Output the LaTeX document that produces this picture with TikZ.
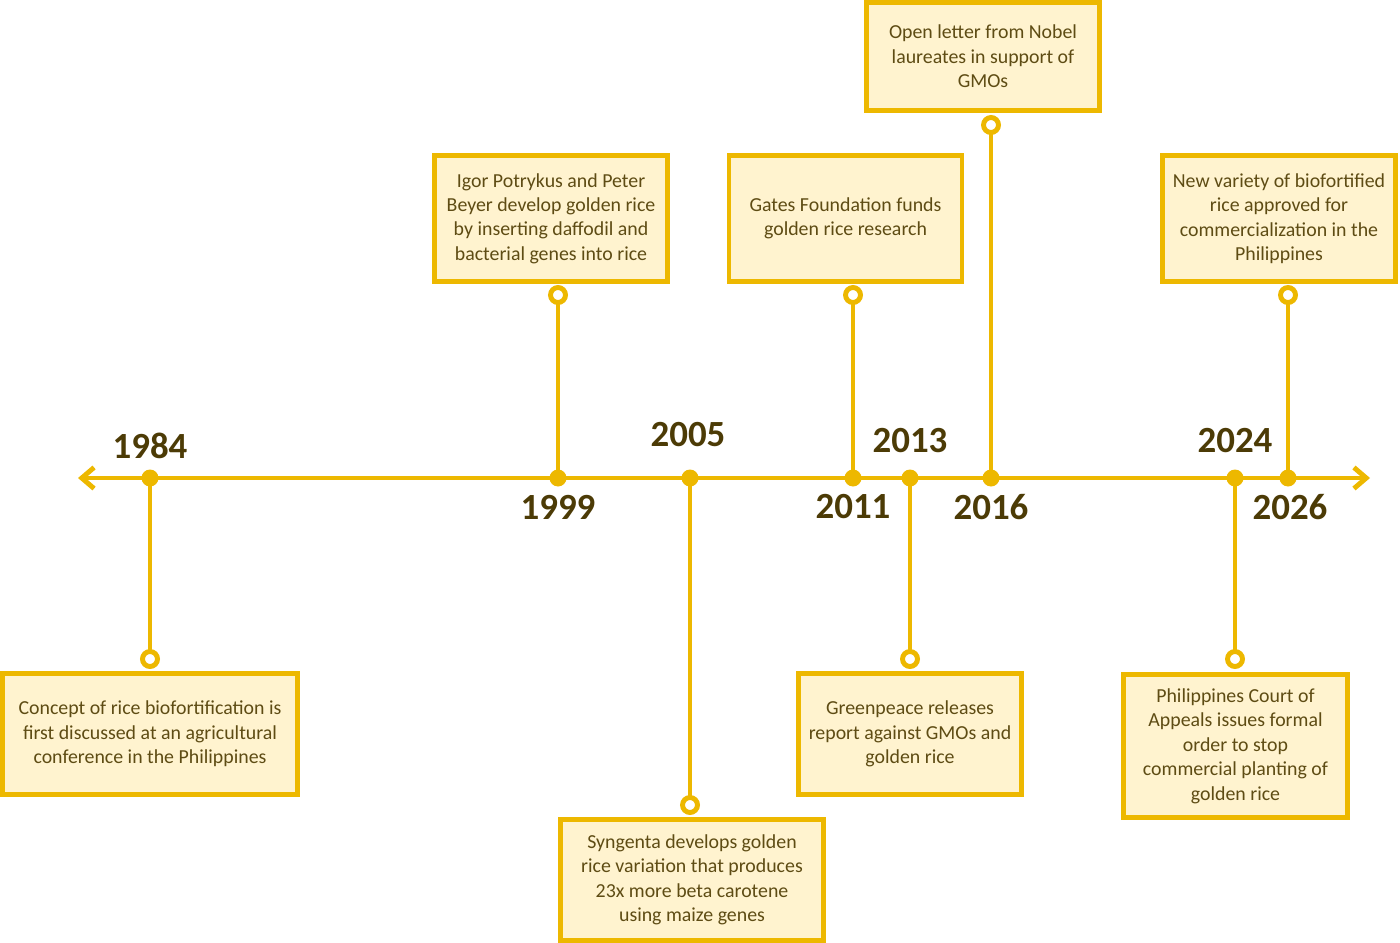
\documentclass[tikz,border=0pt]{standalone}
\usepackage{fontspec}
\setmainfont{Carlito}
\usetikzlibrary{arrows.meta}
\definecolor{gold}{HTML}{EDB800}
\definecolor{cream}{HTML}{FFF3CF}
\definecolor{boxtext}{HTML}{5E4C14}
\definecolor{yeartext}{HTML}{4C3B06}
\tikzset{
  tlline/.style={draw=gold, line width=2.8pt, line cap=round},
  eventbox/.style={draw=gold, fill=cream, line width=2.8pt, inner sep=0pt,
    align=center, text=boxtext, font=\fontsize{11.3}{13.9}\selectfont},
  pinring/.style={circle, draw=gold, fill=white, line width=2.8pt,
    minimum size=0.3cm, inner sep=0pt},
  axisdot/.style={circle, fill=gold, minimum size=0.34cm, inner sep=0pt},
  yearlabel/.style={inner sep=0pt, text=yeartext,
    font=\fontsize{21}{24}\selectfont\bfseries}
}
\begin{document}
\begin{tikzpicture}[x=0.02cm, y=-0.02cm]
    \useasboundingbox (0,0) rectangle (1400,943);
    % Define the time axis
    \coordinate (tl-start) at (78,478);
    \coordinate (tl-end) at (1370,478);
    \draw[tlline, {Straight Barb[length=7pt, width=12pt]}-{Straight Barb[length=7pt, width=12pt]}] (tl-start) -- (tl-end);
    % Points on the axis
    \node[axisdot] (d1984) at (150,478) {};
    \node[axisdot] (d1999) at (558,478) {};
    \node[axisdot] (d2005) at (690,478) {};
    \node[axisdot] (d2011) at (853,478) {};
    \node[axisdot] (d2013) at (910,478) {};
    \node[axisdot] (d2016) at (991,478) {};
    \node[axisdot] (d2024) at (1235,478) {};
    \node[axisdot] (d2026) at (1288,478) {};
    % Rings at the end of each stem
    \coordinate (p1984) at (150,659);
    \coordinate (p1999) at (558,295);
    \coordinate (p2005) at (690,805);
    \coordinate (p2011) at (853,295);
    \coordinate (p2013) at (910,659);
    \coordinate (p2016) at (991,125);
    \coordinate (p2024) at (1235,659);
    \coordinate (p2026) at (1288,295);
    % Stems
    \draw[tlline] (d1984.center) -- (p1984);
    \draw[tlline] (d1999.center) -- (p1999);
    \draw[tlline] (d2005.center) -- (p2005);
    \draw[tlline] (d2011.center) -- (p2011);
    \draw[tlline] (d2013.center) -- (p2013);
    \draw[tlline] (d2016.center) -- (p2016);
    \draw[tlline] (d2024.center) -- (p2024);
    \draw[tlline] (d2026.center) -- (p2026);
    \node[pinring] (pin1984) at (p1984) {};
    \node[pinring] (pin1999) at (p1999) {};
    \node[pinring] (pin2005) at (p2005) {};
    \node[pinring] (pin2011) at (p2011) {};
    \node[pinring] (pin2013) at (p2013) {};
    \node[pinring] (pin2016) at (p2016) {};
    \node[pinring] (pin2024) at (p2024) {};
    \node[pinring] (pin2026) at (p2026) {};
    % Event boxes
    \node[eventbox, minimum width=5.9cm, minimum height=2.42cm] (ev1984) at (150,734)
        {Concept of rice biofortification is\\first discussed at an agricultural\\conference in the Philippines};
    \node[eventbox, minimum width=4.66cm, minimum height=2.52cm] (ev1999) at (551,218.5)
        {Igor Potrykus and Peter\\Beyer develop golden rice\\by inserting daffodil and\\bacterial genes into rice};
    \node[eventbox, minimum width=5.26cm, minimum height=2.42cm] (ev2005) at (692,880)
        {Syngenta develops golden\\rice variation that produces\\23x more beta carotene\\using maize genes};
    \node[eventbox, minimum width=4.66cm, minimum height=2.52cm] (ev2011) at (845.5,218.5)
        {Gates Foundation funds\\golden rice research};
    \node[eventbox, minimum width=4.46cm, minimum height=2.42cm] (ev2013) at (910,734)
        {Greenpeace releases\\report against GMOs and\\golden rice};
    \node[eventbox, minimum width=4.66cm, minimum height=2.16cm] (ev2016) at (983,56.5)
        {Open letter from Nobel\\laureates in support of\\GMOs};
    \node[eventbox, minimum width=4.48cm, minimum height=2.86cm] (ev2024) at (1235.5,746)
        {Philippines Court of\\Appeals issues formal\\order to stop\\commercial planting of\\golden rice};
    \node[eventbox, minimum width=4.66cm, minimum height=2.52cm] (ev2026) at (1279,218.5)
        {New variety of biofortified\\rice approved for\\commercialization in the\\Philippines};
    % Year labels
    \node[yearlabel] (yr1984) at (150,446) {1984};
    \node[yearlabel] (yr1999) at (558,507) {1999};
    \node[yearlabel] (yr2005) at (688,435) {2005};
    \node[yearlabel] (yr2011) at (853,507) {2011};
    \node[yearlabel] (yr2013) at (910,441) {2013};
    \node[yearlabel] (yr2016) at (991,507) {2016};
    \node[yearlabel] (yr2024) at (1235,441) {2024};
    \node[yearlabel] (yr2026) at (1290,507) {2026};
\end{tikzpicture}
\end{document}
